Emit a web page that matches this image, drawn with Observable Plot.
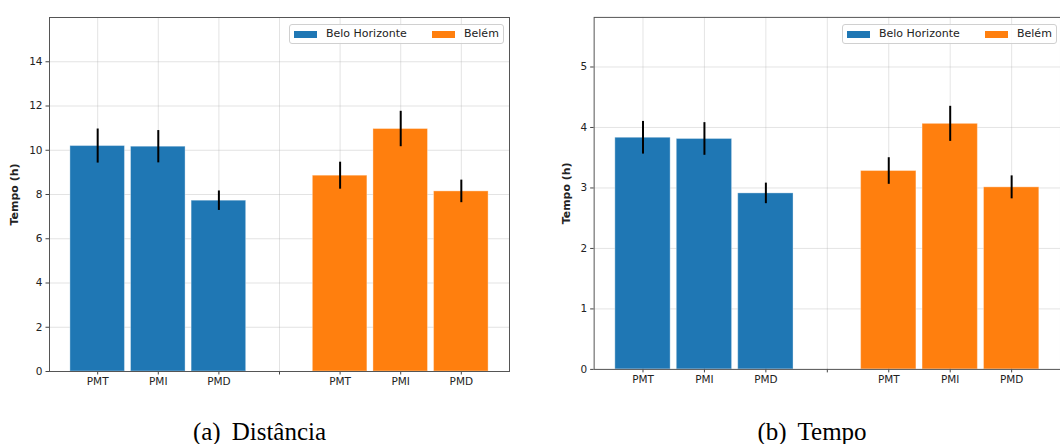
<!DOCTYPE html>
<html>
<head>
<meta charset="utf-8">
<script src="https://cdn.jsdelivr.net/npm/d3@7"></script>
<script src="https://cdn.jsdelivr.net/npm/@observablehq/plot@0.6"></script>
<style>
  html, body { margin: 0; padding: 0; background: #fff; }
  #wrap { position: relative; width: 1060px; height: 444px; overflow: hidden; background: #fff; }
  .panel { position: absolute; top: 0; }
  .panel svg g[aria-label="y-axis label"] text { font-weight: bold; font-size: 11px; }
  .legend { position: absolute; top: 24px; width: 215px; height: 20px; box-sizing: border-box;
            border: 1px solid #d0d0d0; border-radius: 3px; background: rgba(255,255,255,0.85);
            font-family: "DejaVu Sans", sans-serif; font-size: 11px; color: #222; }
  .legend .sw { position: absolute; top: 5.5px; width: 23px; height: 7.5px; }
  .legend .lb { position: absolute; top: 2px; line-height: 14px; white-space: nowrap; }
  .caption { position: absolute; top: 419px; font-family: "Liberation Serif", "Times New Roman", serif;
             font-size: 25px; line-height: 25px; white-space: nowrap; transform: translateX(-50%); color: #000; }
  .caption .gap { display: inline-block; width: 11px; }
</style>
</head>
<body>
<div id="wrap"></div>
<script>
// ---- data ----
const metrics = ["PMT", "PMI", "PMD"];
const cities = ["Belo Horizonte", "Belém"];
const cityColors = ["#1f77b4", "#ff7f0e"];

// (a) Distância
const distMeanBH = [10.19, 10.16, 7.72];
const distStdBH  = [0.77, 0.73, 0.44];
const distMeanBE = [8.85, 10.96, 8.14];
const distStdBE  = [0.61, 0.80, 0.51];
const distTicks  = [0, 2, 4, 6, 8, 10, 12, 14];
const distYMax   = 16;

// (b) Tempo
const timeMeanBH = [3.83, 3.81, 2.91];
const timeStdBH  = [0.27, 0.27, 0.17];
const timeMeanBE = [3.28, 4.06, 3.01];
const timeStdBE  = [0.22, 0.29, 0.19];
const timeTicks  = [0, 1, 2, 3, 4, 5];
const timeYMax   = 5.82;

const yLabel = "Tempo (h)";
const captions = ["(a)", "Distância", "(b)", "Tempo"];

// slots: three bars per city with an empty slot between the groups
const slots = [...metrics.map(m => "BH|" + m), "gap", ...metrics.map(m => "BE|" + m)];
const slotLabel = s => s === "gap" ? "" : s.split("|")[1];

function rows(meanBH, stdBH, meanBE, stdBE) {
  const out = [];
  metrics.forEach((m, i) => out.push({slot: "BH|" + m, city: cities[0], mean: meanBH[i], sd: stdBH[i]}));
  metrics.forEach((m, i) => out.push({slot: "BE|" + m, city: cities[1], mean: meanBE[i], sd: stdBE[i]}));
  return out;
}

function panel(data, yTicks, yMax, opts) {
  return Plot.plot({
    width: opts.width,
    height: 401,
    marginLeft: opts.marginLeft,
    marginRight: opts.marginRight,
    marginTop: 17,
    marginBottom: 30,
    style: {fontFamily: "DejaVu Sans, sans-serif", fontSize: "10.5px", color: "#222", background: "transparent"},
    x: {type: "band", domain: slots, paddingInner: 0.1, paddingOuter: 0.345, align: 0.5, round: false},
    y: {domain: [0, yMax]},
    color: {domain: cities, range: cityColors},
    marks: [
      Plot.gridX({stroke: "#b0b0b0", strokeOpacity: 0.35}),
      Plot.gridY({ticks: yTicks, stroke: "#b0b0b0", strokeOpacity: 0.35}),
      Plot.barY(data, {x: "slot", y: "mean", fill: "city", stroke: "white", strokeOpacity: 0.35, strokeWidth: 1}),
      Plot.ruleX(data, {x: "slot", y1: d => d.mean - d.sd, y2: d => d.mean + d.sd, stroke: "black", strokeWidth: 2}),
      Plot.axisX({tickFormat: slotLabel, tickSize: 3.5, tickPadding: 3, label: null, stroke: "#444"}),
      Plot.axisY({ticks: yTicks, tickFormat: d => String(d), tickSize: 3.5, tickPadding: 3.5, label: yLabel,
                  labelAnchor: "center", labelArrow: "none", labelOffset: opts.labelOffset, stroke: "#444"}),
      Plot.frame({stroke: "#555", strokeWidth: 1})
    ]
  });
}

const wrap = document.getElementById("wrap");

function addPanel(left, svg) {
  const d = document.createElement("div");
  d.className = "panel";
  d.style.left = left + "px";
  d.appendChild(svg);
  wrap.appendChild(d);
}

function addLegend(left) {
  const lg = document.createElement("div");
  lg.className = "legend";
  lg.style.left = left + "px";
  const pos = [[4, 36], [142, 174]];
  cities.forEach((c, i) => {
    const sw = document.createElement("div");
    sw.className = "sw";
    sw.style.left = pos[i][0] + "px";
    sw.style.background = cityColors[i];
    const lb = document.createElement("div");
    lb.className = "lb";
    lb.style.left = pos[i][1] + "px";
    lb.textContent = c;
    lg.appendChild(sw);
    lg.appendChild(lb);
  });
  wrap.appendChild(lg);
}

function addCaption(center, tag, text) {
  const c = document.createElement("div");
  c.className = "caption";
  c.style.left = center + "px";
  const a = document.createElement("span"); a.textContent = tag;
  const g = document.createElement("span"); g.className = "gap";
  const b = document.createElement("span"); b.textContent = text;
  c.appendChild(a); c.appendChild(g); c.appendChild(b);
  wrap.appendChild(c);
}

addPanel(0, panel(rows(distMeanBH, distStdBH, distMeanBE, distStdBE), distTicks, distYMax,
  {width: 530, marginLeft: 49, marginRight: 21, labelOffset: 39}));
addPanel(530, panel(rows(timeMeanBH, timeStdBH, timeMeanBE, timeStdBE), timeTicks, timeYMax,
  {width: 533, marginLeft: 64, marginRight: 0, labelOffset: 32}));

addLegend(289);
addLegend(842);
addCaption(259.5, captions[0], captions[1]);
addCaption(812, captions[2], captions[3]);
</script>
</body>
</html>
